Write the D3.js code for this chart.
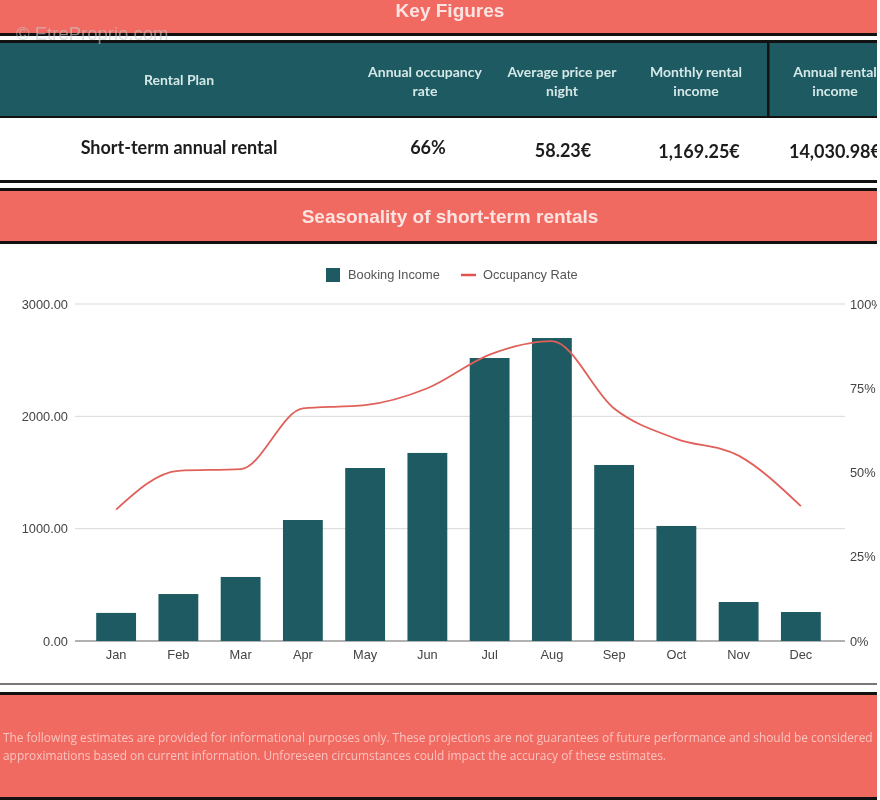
<!DOCTYPE html>
<html>
<head>
<meta charset="utf-8">
<script src="https://cdn.jsdelivr.net/npm/d3@7"></script>
<style>
  html, body { margin: 0; padding: 0; background: #fff; overflow: hidden; }
  svg { display: block; }
</style>
</head>
<body>
<svg width="880" height="800"></svg>
<script>
const months = ['Jan', 'Feb', 'Mar', 'Apr', 'May', 'Jun', 'Jul', 'Aug', 'Sep', 'Oct', 'Nov', 'Dec']
const bookingIncome = [250, 418, 570, 1077, 1540, 1674, 2519, 2697, 1567, 1024, 347, 258]
const occupancyRate = [39, 50.5, 51, 69, 70, 75, 85, 89, 69, 60, 55, 40]
const incomeTicks = [0, 1000, 2000, 3000]
const occupancyTicks = [0, 25, 50, 75, 100]

const tableHeaders = [['Rental Plan'], ['Annual occupancy', 'rate'], ['Average price per', 'night'], ['Monthly rental', 'income'], ['Annual rental', 'income']]
const tableValues = ['Short-term annual rental', '66%', '58.23€', '1,169.25€', '14,030.98€']
const disclaimer = [
  'The following estimates are provided for informational purposes only. These projections are not guarantees of future performance and should be considered',
  'approximations based on current information. Unforeseen circumstances could impact the accuracy of these estimates.'
]

const coral = '#f06a62'
const teal = '#1d5a61'
const pageWidth = 877

const svg = d3.select('svg')
const defs = svg.append('defs')
defs.append('clipPath').attr('id', 'page').append('rect').attr('width', pageWidth).attr('height', 800)
defs.append('filter').attr('id', 'soft').append('feGaussianBlur').attr('stdDeviation', 0.5)

const page = svg.append('g').attr('clip-path', 'url(#page)')

// bands and rules of the sheet
function band(y, h, fill) {
  page.append('rect').attr('x', 0).attr('y', y).attr('width', pageWidth).attr('height', h).attr('fill', fill)
}
band(0, 33, coral)
band(33, 3, '#111')
band(40, 3, '#111')
band(43, 73, teal)
band(116, 2, '#111')
band(180, 3, '#111')
band(188, 3, '#111')
band(191, 50, coral)
band(241, 3, '#111')
band(683, 2, '#777')
band(692, 3, '#111')
band(695, 102, coral)
band(797, 3, '#111')
page.append('rect').attr('x', 767).attr('y', 40).attr('width', 2.5).attr('height', 77).attr('fill', '#111')

const text = page.append('g').attr('filter', 'url(#soft)')

function title(label, y) {
  text.append('text').text(label)
    .attr('x', 450).attr('y', y)
    .attr('text-anchor', 'middle')
    .attr('font-family', 'Liberation Sans')
    .attr('font-weight', 'bold')
    .attr('font-size', 19)
    .attr('fill', '#fde4e1')
}
title('Key Figures', 17)
title('Seasonality of short-term rentals', 223)

text.append('text').text('© EtreProprio.com')
  .attr('x', 16).attr('y', 40)
  .attr('font-family', 'Liberation Sans')
  .attr('font-size', 18.5)
  .attr('fill', '#c8c8c8')
  .attr('fill-opacity', 0.6)

// table
const headerX = [179, 425, 562, 696, 835]
const valueX = [179, 428, 563, 699, 835]
const valueY = [154, 154, 157, 158, 158]

tableHeaders.forEach((lines, i) => {
  lines.forEach((line, j) => {
    text.append('text').text(line)
      .attr('x', headerX[i])
      .attr('y', (lines.length === 1 ? 85 : 77) + j * 18.5)
      .attr('text-anchor', 'middle')
      .attr('font-family', 'Lato')
      .attr('font-weight', 'bold')
      .attr('font-size', 14)
      .attr('fill', '#d5e8e8')
  })
})

text.selectAll('.value')
  .data(tableValues)
  .join('text')
  .attr('class', 'value')
  .text(d => d)
  .attr('x', (d, i) => valueX[i])
  .attr('y', (d, i) => valueY[i])
  .attr('text-anchor', 'middle')
  .attr('font-family', 'Lato')
  .attr('font-weight', 'bold')
  .attr('font-size', 18)
  .attr('fill', '#1c1c1c')

// chart
const x = d3.scaleBand().domain(months).range([85, 832]).paddingInner(0.36).paddingOuter(0.18)
const yIncome = d3.scaleLinear().domain([0, 3000]).range([641, 304])
const yOccupancy = d3.scaleLinear().domain([0, 100]).range([641, 304])
const gridLeft = 75
const gridRight = 845

const chart = page.append('g')

chart.append('g')
  .selectAll('line')
  .data(incomeTicks)
  .join('line')
  .attr('x1', gridLeft).attr('x2', gridRight)
  .attr('y1', d => yIncome(d)).attr('y2', d => yIncome(d))
  .attr('stroke', d => d === 0 ? '#999' : '#d9d9d9')
  .attr('stroke-width', d => d === 0 ? 1.5 : 1)

chart.append('g')
  .selectAll('rect')
  .data(bookingIncome)
  .join('rect')
  .attr('x', (d, i) => x(months[i]))
  .attr('y', d => yIncome(d))
  .attr('width', x.bandwidth())
  .attr('height', d => yIncome(0) - yIncome(d))
  .attr('fill', teal)

const occupancyLine = d3.line()
  .x((d, i) => x(months[i]) + x.bandwidth() / 2)
  .y(d => yOccupancy(d))
  .curve(d3.curveMonotoneX)

chart.append('path')
  .attr('d', occupancyLine(occupancyRate))
  .attr('fill', 'none')
  .attr('stroke', '#e0605a')
  .attr('stroke-width', 1.8)

const axisText = { family: 'Liberation Sans', size: 12.8, fill: '#444' }

function styleAxis(g) {
  g.select('.domain').remove()
  g.selectAll('.tick line').remove()
  g.selectAll('.tick text')
    .attr('font-family', axisText.family)
    .attr('font-size', axisText.size)
    .attr('fill', axisText.fill)
}

text.append('g')
  .attr('transform', 'translate(74,0)')
  .call(d3.axisLeft(yIncome).tickValues(incomeTicks).tickFormat(d => d3.format('.2f')(d)).tickSize(0).tickPadding(6))
  .call(styleAxis)

text.append('g')
  .attr('transform', 'translate(850,0)')
  .call(d3.axisRight(yOccupancy).tickValues(occupancyTicks).tickFormat(d => d + '%').tickSize(0).tickPadding(0))
  .call(styleAxis)

text.append('g')
  .attr('transform', 'translate(0,641)')
  .call(d3.axisBottom(x).tickSize(0).tickPadding(9))
  .call(styleAxis)

// legend
chart.append('rect').attr('x', 326).attr('y', 268).attr('width', 14).attr('height', 14).attr('fill', teal)
chart.append('line').attr('x1', 461).attr('x2', 476).attr('y1', 275).attr('y2', 275).attr('stroke', '#e0564f').attr('stroke-width', 2.5)

const legendLabels = [['Booking Income', 348], ['Occupancy Rate', 483]]
text.selectAll('.legend')
  .data(legendLabels)
  .join('text')
  .attr('class', 'legend')
  .text(d => d[0])
  .attr('x', d => d[1])
  .attr('y', 279)
  .attr('font-family', axisText.family)
  .attr('font-size', 12.8)
  .attr('fill', '#555')

// disclaimer
text.selectAll('.note')
  .data(disclaimer)
  .join('text')
  .attr('class', 'note')
  .text(d => d)
  .attr('x', 3)
  .attr('y', (d, i) => 742 + i * 18)
  .attr('font-family', 'Open Sans')
  .attr('font-size', 11.9)
  .attr('fill', '#fbc4bf')
</script>
</body>
</html>
